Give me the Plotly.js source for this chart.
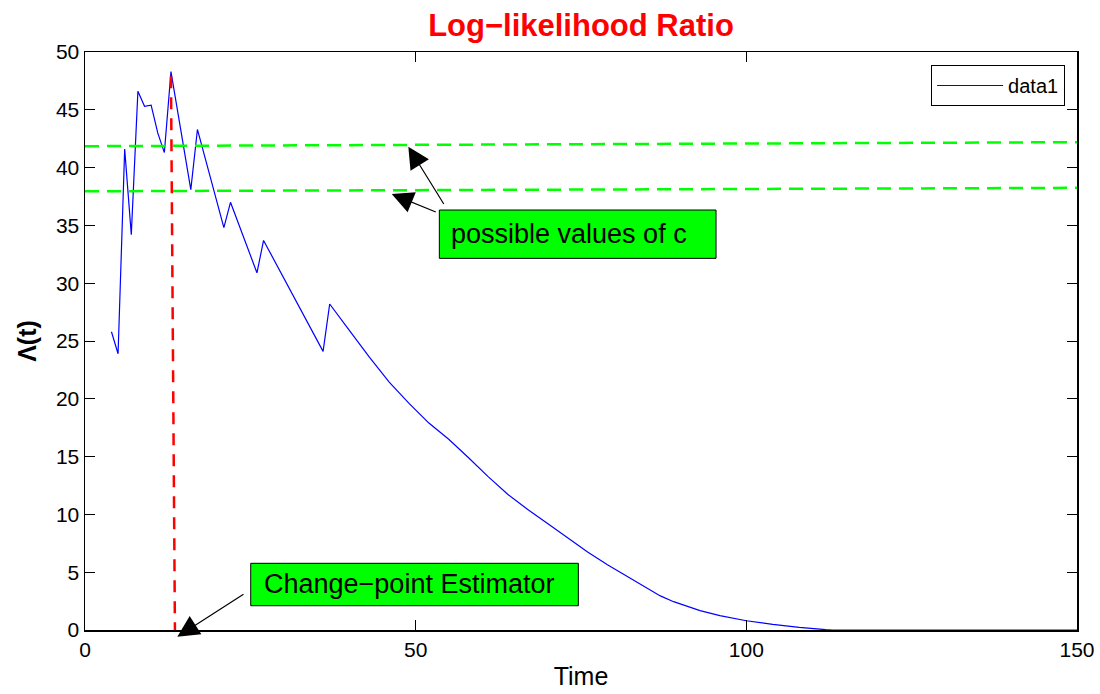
<!DOCTYPE html>
<html>
<head>
<meta charset="utf-8">
<script src="https://cdn.plot.ly/plotly-3.0.1.min.js"></script>
<style>html,body{margin:0;padding:0;background:#fff;}#chart{width:1100px;height:694px;}</style>
</head>
<body>
<div id="chart"></div>
<script>
// Main series: log-likelihood ratio over time
const time = [4,5,6,7,8,9,10,11,12,13,16,17,21,22,26,27,36,37,40,43,46,49,52,55,58,61,64,67,70,73,76,79,82,85,87,89,91,93,96,100,104,108,112,113,120,150];
const lambda = [25.8,23.9,41.6,34.2,46.6,45.3,45.4,43.0,41.3,48.3,38.1,43.3,34.8,37.0,30.9,33.7,24.1,28.2,25.9,23.6,21.45,19.6,17.9,16.5,14.9,13.25,11.7,10.4,9.2,7.95,6.75,5.65,4.65,3.65,2.95,2.45,2.05,1.68,1.25,0.8,0.48,0.22,0.03,0,0,0];

// Threshold lines ("possible values of c")
const cLineX = [0, 150];
const cLowY = [37.95, 38.25];
const cHighY = [41.85, 42.2];

// Change-point estimator line
const cpX = [13.0, 13.6];
const cpY = [47.9, 0];

const xTicks = [0, 50, 100, 150];
const yTicks = [0,5,10,15,20,25,30,35,40,45,50];

const FONT = 'Liberation Sans, Arial, Helvetica, sans-serif';

const traces = [
  {x: time, y: lambda, type: 'scatter', mode: 'lines', name: 'data1',
   line: {color: '#0000ff', width: 1.2}},
  {x: cLineX, y: cHighY, type: 'scatter', mode: 'lines', showlegend: false,
   line: {color: '#00ff00', width: 2.5, dash: '14px,8px'}, hoverinfo: 'skip'},
  {x: cLineX, y: cLowY, type: 'scatter', mode: 'lines', showlegend: false,
   line: {color: '#00ff00', width: 2.5, dash: '14px,8px'}, hoverinfo: 'skip'},
  {x: cpX, y: cpY, type: 'scatter', mode: 'lines', showlegend: false,
   line: {color: '#ff0000', width: 2.5, dash: '12px,9px'}, hoverinfo: 'skip'}
];

const axisCommon = {
  showline: true, linecolor: '#000', linewidth: 1.5, mirror: 'allticks',
  ticks: 'inside', ticklen: 10, tickwidth: 1, tickcolor: '#000',
  showgrid: false, zeroline: false,
  tickfont: {family: FONT, size: 21, color: '#000'}
};

const arrowCommon = {
  text: ' ', showarrow: true, arrowhead: 2, arrowsize: 3.6, arrowwidth: 1.2,
  arrowcolor: '#000', xref: 'x', yref: 'y', axref: 'x', ayref: 'y',
  font: {size: 1}
};

const layout = {
  width: 1100, height: 694,
  paper_bgcolor: '#fff', plot_bgcolor: '#fff',
  margin: {l: 85, r: 23, t: 52, b: 64},
  title: {text: '<b>Log−likelihood Ratio</b>', font: {family: FONT, size: 31, color: '#ff0000'},
          xref: 'paper', x: 0.5, xanchor: 'center', yref: 'container', y: 0.964, yanchor: 'middle'},
  xaxis: Object.assign({}, axisCommon, {
    range: [0, 150], tickvals: xTicks, ticktext: xTicks.map(String),
    title: {text: 'Time', font: {family: FONT, size: 25, color: '#000'}, standoff: 8}
  }),
  yaxis: Object.assign({}, axisCommon, {
    range: [0, 50], tickvals: yTicks, ticktext: yTicks.map(String),
    title: {text: '<b>Λ(t)</b>', font: {family: FONT, size: 25, color: '#000'}, standoff: 12}
  }),
  legend: {x: 0.988, xanchor: 'right', y: 0.9775, yanchor: 'top',
           bgcolor: '#fff', bordercolor: '#000', borderwidth: 1, itemwidth: 66,
           font: {family: FONT, size: 20, color: '#000'}},
  shapes: [
    {type: 'rect', xref: 'x', yref: 'y', x0: 53.58, x1: 95.42, y0: 32.15, y1: 36.33,
     fillcolor: '#00ff00', line: {color: '#000', width: 1}},
    {type: 'rect', xref: 'x', yref: 'y', x0: 25.06, x1: 74.6, y0: 2.1, y1: 5.77,
     fillcolor: '#00ff00', line: {color: '#000', width: 1}}
  ],
  annotations: [
    {text: 'possible values of c', x: 55.1, y: 34.24, xref: 'x', yref: 'y', xanchor: 'left', yanchor: 'middle',
     showarrow: false, font: {family: FONT, size: 27, color: '#000'}},
    {text: 'Change−point Estimator', x: 26.7, y: 3.94, xref: 'x', yref: 'y', xanchor: 'left', yanchor: 'middle',
     showarrow: false, font: {family: FONT, size: 27, color: '#000'}},
    Object.assign({}, arrowCommon, {x: 48.89, y: 41.81, ax: 54.44, ay: 36.68}),
    Object.assign({}, arrowCommon, {x: 46.38, y: 37.72, ax: 53.27, ay: 36.1}),
    Object.assign({}, arrowCommon, {x: 13.96, y: -0.58, ax: 24.19, ay: 3.17})
  ]
};

Plotly.newPlot('chart', traces, layout, {displayModeBar: false, staticPlot: true});
</script>
</body>
</html>
